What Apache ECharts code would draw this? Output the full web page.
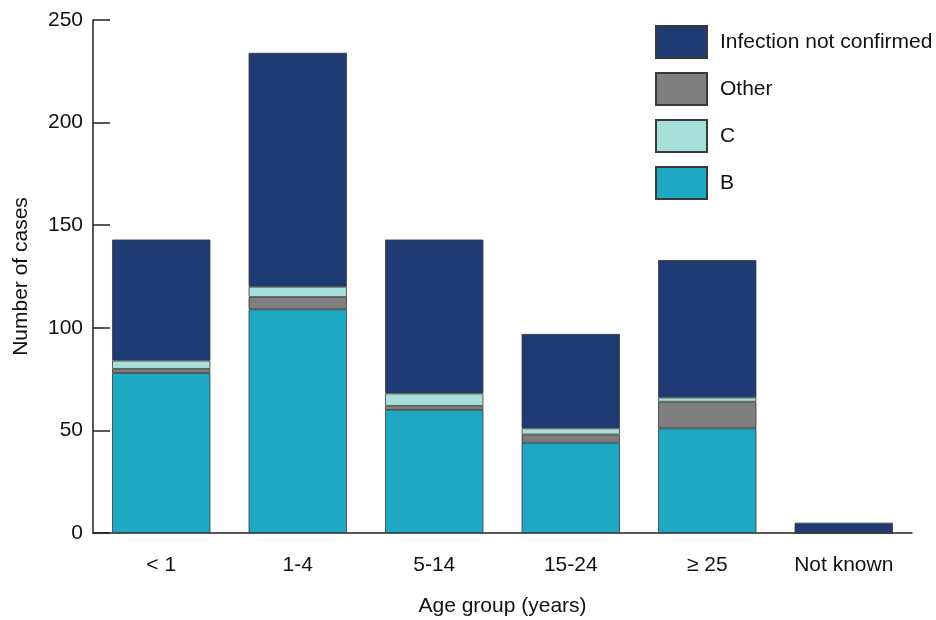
<!DOCTYPE html>
<html>
<head>
<meta charset="utf-8">
<script src="https://cdn.jsdelivr.net/npm/echarts@6/dist/echarts.min.js"></script>
<style>html,body{margin:0;padding:0;background:#fff}#c{width:936px;height:620px}</style>
</head>
<body>
<div id="c"></div>
<script>
const categories = ['< 1', '1-4', '5-14', '15-24', '≥ 25', 'Not known'];
const seriesB = [78, 109, 60, 44, 51, 0];
const seriesOther = [2, 6, 2, 4, 13, 0];
const seriesC = [4, 5, 6, 3, 2, 0];
const seriesNotConfirmed = [59, 114, 75, 46, 67, 5];
const yTicks = [0, 50, 100, 150, 200, 250];

const font = 'Liberation Sans, Arial, Helvetica, sans-serif';
const fs = 21;
const chart = echarts.init(document.getElementById('c'));
const mk = (name, data, color) => ({
  name, type: 'bar', stack: 'all', data, barWidth: '72%',
  itemStyle: { color, borderColor: '#3a3a3a', borderWidth: 0.8 },
  emphasis: { disabled: true }
});
chart.setOption({
  animation: false,
  textStyle: { fontFamily: font },
  grid: { left: 93, right: 24, top: 20, bottom: 87, outerBoundsMode: 'none', containLabel: false },
  legend: {
    orient: 'vertical', left: 655, top: 25, padding: 0,
    itemWidth: 51, itemHeight: 32, itemGap: 13, icon: 'rect',
    data: ['Infection not confirmed', 'Other', 'C', 'B'],
    textStyle: { fontFamily: font, fontSize: fs, color: '#111', padding: [0, 0, 0, 8] },
    selectedMode: false
  },
  xAxis: {
    type: 'category', data: categories,
    name: 'Age group (years)', nameLocation: 'middle', nameGap: 63,
    nameTextStyle: { fontFamily: font, fontSize: fs, color: '#111' },
    axisLine: { lineStyle: { color: '#222', width: 1.5 } },
    axisTick: { inside: true, length: 13, lineStyle: { color: '#222', width: 1.5 } },
    axisLabel: { fontFamily: font, fontSize: fs, color: '#111', margin: 22 }
  },
  yAxis: {
    type: 'value', min: 0, max: 250, interval: 50,
    name: 'Number of cases', nameLocation: 'middle', nameGap: 61,
    nameTextStyle: { fontFamily: font, fontSize: fs, color: '#111' },
    axisLine: { show: true, lineStyle: { color: '#222', width: 1.5 } },
    axisTick: { show: true, inside: true, length: 17, lineStyle: { color: '#222', width: 1.5 } },
    axisLabel: { fontFamily: font, fontSize: fs, color: '#111', margin: 10,
      formatter: v => yTicks.includes(v) ? String(v) : '' },
    splitLine: { show: false }
  },
  series: [
    mk('B', seriesB, '#1ea8c3'),
    mk('Other', seriesOther, '#7f7f7f'),
    mk('C', seriesC, '#a8dfda'),
    mk('Infection not confirmed', seriesNotConfirmed, '#1f3b73')
  ]
});
</script>
</body>
</html>
